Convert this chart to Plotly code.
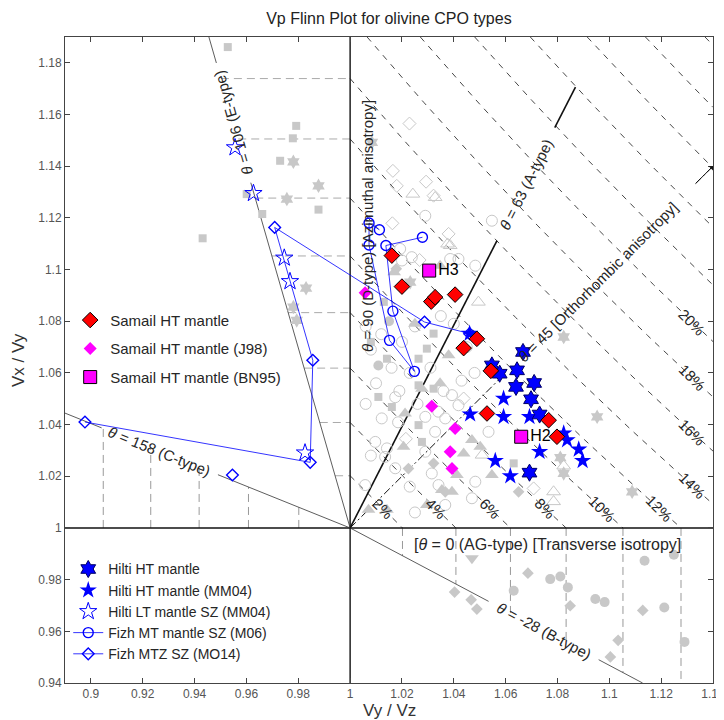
import numpy as np
import plotly.graph_objects as go

# ---------------- data ----------------
samail_x = [1.0161, 1.0200, 1.0313, 1.0328, 1.0405, 1.0489, 1.0438, 1.0543, 1.0528, 1.0766, 1.0798]
samail_y = [1.1054, 1.0934, 1.0876, 1.0893, 1.0903, 1.0732, 1.0696, 1.0608, 1.0443, 1.0417, 1.0353]
j98_x = [1.0058, 1.0315, 1.0405, 1.0386, 1.0393]
j98_y = [1.0910, 1.0471, 1.0385, 1.0295, 1.0230]
bn95_x = [1.0305, 1.0660]
bn95_y = [1.0996, 1.0353]
bn95_lab = ["H3", "H2"]
hiltiHT_x = [1.0667, 1.0644, 1.0547, 1.0577, 1.0640, 1.0710, 1.0698, 1.0731, 1.0692]
hiltiHT_y = [1.0681, 1.0610, 1.0629, 1.0597, 1.0546, 1.0561, 1.0498, 1.0439, 1.0214]
hiltiMM_x = [1.0461, 1.0592, 1.0463, 1.0592, 1.0692, 1.0824, 1.0837, 1.0731, 1.0882, 1.0897, 1.0560, 1.0618]
hiltiMM_y = [1.0752, 1.0501, 1.0440, 1.0430, 1.0430, 1.0366, 1.0340, 1.0295, 1.0304, 1.0260, 1.0260, 1.0201]
hiltiLT_x = [0.9556, 0.9627, 0.9746, 0.9768, 0.9826]
hiltiLT_y = [1.1472, 1.1295, 1.1045, 1.0954, 1.0291]
fizhMT_x = [1.0113, 1.0073, 1.0073, 1.0152, 1.0248, 1.0165, 1.0138, 1.0279]
fizhMT_y = [1.1154, 1.1180, 1.1095, 1.0726, 1.0606, 1.0839, 1.1093, 1.1125]
fizhMTZ_x = [1.0461, 1.0287, 0.9709, 0.9856, 0.9846, 0.8977, None, 0.9546]
fizhMTZ_y = [1.0752, 1.0797, 1.1163, 1.0649, 1.0254, 1.0410, None, 1.0205]

# literature database (grey symbols)
g_sq_x = [0.9528, 0.9792, 0.9779, 0.9730, 0.9601, 0.9661, 0.9878, 0.9431, 1.0322, 1.0296, 1.0264, 1.0142,
          1.0109, 1.0161, 1.0264, 1.0277, 1.0264, 1.0322, 1.0631, 1.0130, 1.0080]
g_sq_y = [1.1861, 1.1556, 1.1508, 1.1421, 1.1292, 1.1215, 1.1232, 1.1121, 1.0752, 1.0694, 1.0655, 1.0655,
          1.0507, 1.0468, 1.0398, 1.0333, 1.0552, 1.0539, 1.0250, 1.0875, 1.0720]
g_hex_x = [0.9781, 0.9878, 0.9756, 0.9830, 0.9781, 0.9794, 1.0084, 1.0232, 1.0953, 1.0811, 1.0824, 1.1088, 1.0824]
g_hex_y = [1.1417, 1.1324, 1.1273, 1.0928, 1.0855, 1.0803, 1.1492, 1.0951, 1.0430, 1.0272, 1.0211, 1.0140, 1.0739]
g_tri_x = [1.0347, 1.0380, 1.0212, 1.0206, 1.0470, 1.0502, 1.0438, 1.0547, 1.0412, 1.0354, 1.0393, 1.0296,
           1.0142, 1.0071, 1.0277, 1.0170, 1.0347, 1.0250]
g_tri_y = [1.1015, 1.0668, 1.0443, 1.0314, 1.0340, 1.0314, 1.0288, 1.0205, 1.0205, 1.0147, 1.0140, 1.0089,
           1.0070, 1.0070, 1.0539, 1.0990, 1.0560, 1.0790]
g_trio_x = [1.0242, 1.0328, 1.0376, 1.0386, 1.0495, 1.0509, 1.0824, 1.0785, 1.0785]
g_trio_y = [1.1292, 1.1279, 1.1099, 1.1093, 1.0874, 1.0282, 1.0240, 1.0140, 1.0102]
g_dia_x = [1.0178, 1.0322, 1.0225, 1.0650, 1.0367, 1.0686, 1.0403, 1.0467, 1.0489, 1.0849, 1.1129, 1.1034, 1.1004]
g_dia_y = [1.1003, 1.0250, 1.0230, 1.0140, 1.0140, 0.9825, 0.9752, 0.9722, 0.9686, 0.9699, 0.9681, 0.9565, 0.9501]
g_diao_x = [1.0229, 1.0165, 1.0180, 1.0293, 1.0322, 1.0163, 1.0380, 1.0268, 1.0438, 1.0708, 1.0215]
g_diao_y = [1.1565, 1.1382, 1.1324, 1.1340, 1.1286, 1.1179, 1.1138, 1.1037, 1.0501, 1.0153, 1.0345]
g_circ_x = [1.1136, 1.1249, 1.0772, 1.0811, 1.0840, 1.0631, 1.0946, 1.0982, 1.1212, 1.1290, 1.0150, 1.0109]
g_circ_y = [0.9873, 0.9896, 0.9802, 0.9812, 0.9770, 0.9757, 0.9725, 0.9713, 0.9692, 0.9559, 1.0800, 1.0629]
g_circo_x = [1.0290, 1.0418, 1.0483, 1.0200, 1.0547, 1.0193, 1.0238, 1.0386,
             1.0060, 1.0120, 1.0200, 1.0250, 1.0080, 1.0160, 1.0230, 1.0310, 1.0100, 1.0190, 1.0260, 1.0340,
             1.0060, 1.0430, 1.0360, 1.0480, 1.0400, 1.0350, 1.0450,
             1.0174, 1.0122, 1.0185, 1.0097, 1.0142, 1.0135, 1.0058, 1.0174, 1.0290, 1.0328, 1.0367, 1.0290,
             1.0315, 1.0341, 1.0483, 1.0470, 1.0367, 1.0534, 1.0393, 1.0418, 1.0230, 1.0250, 1.0080]
g_circo_y = [1.1208, 1.1041, 1.1015, 1.1035, 1.1189, 1.1080, 1.1048, 1.1041,
             1.0780, 1.0750, 1.0720, 1.0780, 1.0690, 1.0620, 1.0600, 1.0620, 1.0560, 1.0530, 1.0480, 1.0450,
             1.0480, 1.0570, 1.0530, 1.0600, 1.0790, 1.0820, 1.0700,
             1.0506, 1.0424, 1.0409, 1.0333, 1.0308, 1.0275, 1.0166, 1.0231, 1.0295, 1.0372, 1.0424, 1.0430,
             1.0211, 1.0166, 1.0179, 1.0115, 1.0089, 1.0372, 1.0514, 1.0475, 1.0160, 1.0060, 1.0280]
g_trid_x = [1.0470]
g_trid_y = [0.9883]

# reference-line parameters
pct_levels = list(range(2, 32, 2))
pct_labelled = [2, 4, 6, 8, 10, 12, 14, 16, 18, 20]
x_ticks = [0.9, 0.92, 0.94, 0.96, 0.98, 1, 1.02, 1.04, 1.06, 1.08, 1.1, 1.12, 1.14]
x_tick_text = ["0.9", "0.92", "0.94", "0.96", "0.98", "1", "1.02", "1.04", "1.06", "1.08", "1.1", "1.12", "1.14"]
y_ticks = [0.94, 0.96, 0.98, 1, 1.02, 1.04, 1.06, 1.08, 1.1, 1.12, 1.14, 1.16, 1.18]
y_tick_text = ["0.94", "0.96", "0.98", "1", "1.02", "1.04", "1.06", "1.08", "1.1", "1.12", "1.14", "1.16", "1.18"]

# theta lines: angle, label, label angle, gap start, gap end, end distance (None = box edge), style
theta_lines = [
    dict(th=63, lab="<i>θ</i> = 63 (A-type)", ang=-63, g0=0.1248, g1=0.1739, end=0.1915, color="#111", w=1.6, dash="solid"),
    dict(th=106, lab="<i>θ</i> = 106 (E-type)", ang=-106, g0=0.139, g1=0.1872, end=None, color="#333", w=0.8, dash="solid"),
    dict(th=158, lab="<i>θ</i> = 158 (C-type)", ang=22, g0=0.055, g1=0.1034, end=None, color="#333", w=0.8, dash="solid"),
    dict(th=-28, lab="<i>θ</i> = -28 (B-type)", ang=28, g0=0.0605, g1=0.1086, end=None, color="#333", w=0.8, dash="solid"),
    dict(th=45, lab="<i>θ</i> = 45 [Orthorhombic anisotropy]", ang=-45, g0=0.0819, g1=0.1884, end=None, color="#111", w=1.0, dash="8px,3px,2px,3px"),
]

X0, X1, Y0, Y1 = 0.89, 1.14, 0.94, 1.19
FONT = "Liberation Sans, Arial, sans-serif"
GREY = "#c8c8c8"

fig = go.Figure()


def ratio(a):
    return (200.0 + a) / (200.0 - a)


def box_dist(th):
    c, s = np.cos(np.radians(th)), np.sin(np.radians(th))
    ts = []
    if c > 1e-9: ts.append((X1 - 1) / c)
    if c < -1e-9: ts.append((X0 - 1) / c)
    if s > 1e-9: ts.append((Y1 - 1) / s)
    if s < -1e-9: ts.append((Y0 - 1) / s)
    return min(ts)


def add_lines(xs, ys, color, width, dash):
    fig.add_trace(go.Scatter(x=xs, y=ys, mode="lines", line=dict(color=color, width=width, dash=dash),
                             showlegend=False, hoverinfo="skip"))


# ---- anisotropy contour lines ----
tanE = np.tan(np.radians(106))
tanC = np.tan(np.radians(158))
tanB = np.tan(np.radians(-28))
ur_x, ur_y, ul_x, ul_y, lv_x, lv_y, rv_x, rv_y = [], [], [], [], [], [], [], []
for a in pct_levels:
    r = ratio(a)
    xs = np.linspace(max(1.0, r / Y1), min(r, X1), 80)
    ur_x += list(xs) + [None]
    ur_y += list(r / xs) + [None]
    if r <= Y1:
        ul_x += [1 + (r - 1) / tanE, 1.0, None]
        ul_y += [r, r, None]
    if 1 / r >= X0:
        xv = 1 / r
        lv_x += [xv, xv, None]
        lv_y += [1.0, 1 + (xv - 1) * tanC, None]
    if r <= X1:
        rv_x += [r, r, None]
        rv_y += [1.0, max(Y0, 1 + (r - 1) * tanB), None]
add_lines(ur_x, ur_y, "#333", 0.9, "6px,6px")
add_lines(ul_x, ul_y, "#aaa", 1.0, "8px,5px")
add_lines(lv_x, lv_y, "#999", 1.0, "8px,5px")
add_lines(rv_x, rv_y, "#999", 1.0, "8px,5px")

# ---- axes lines through (1,1) ----
add_lines([X0, X1], [1, 1], "#111", 1.4, "solid")
add_lines([1, 1], [Y0, Y1], "#111", 1.4, "solid")

annotations = []
for L in theta_lines:
    c, s = np.cos(np.radians(L["th"])), np.sin(np.radians(L["th"]))
    end = L["end"] if L["end"] is not None else box_dist(L["th"])
    d = [0, L["g0"], None, L["g1"], end]
    xs = [1 + t * c if t is not None else None for t in d]
    ys = [1 + t * s if t is not None else None for t in d]
    add_lines(xs, ys, L["color"], L["w"], L["dash"])
    dm = 0.5 * (L["g0"] + L["g1"])
    annotations.append(dict(x=1 + dm * c, y=1 + dm * s, xref="x", yref="y", text=L["lab"], showarrow=False,
                            textangle=L["ang"], font=dict(size=15, color="#262626", family=FONT)))
    if L["th"] == 45:
        annotations.append(dict(x=1 + end * c, y=1 + end * s, ax=1 + (end - 0.01) * c, ay=1 + (end - 0.01) * s,
                                xref="x", yref="y", axref="x", ayref="y", text="", showarrow=True,
                                arrowhead=1, arrowsize=1, arrowwidth=1, arrowcolor="#111"))

# D-type & AG-type labels
annotations.append(dict(x=1.0069, y=1.1169, xref="x", yref="y", text="<i>θ</i> = 90 (D-type) [Azimuthal anisotropy]",
                        showarrow=False, textangle=-90, font=dict(size=15, color="#262626", family=FONT)))
annotations.append(dict(x=1.0761, y=0.9935, xref="x", yref="y", text="[<i>θ</i> = 0 (AG-type) [Transverse isotropy]",
                        showarrow=False, font=dict(size=16, color="#262626", family=FONT)))

# percentage labels
for a in pct_labelled:
    r = ratio(a)
    if a <= 12:
        lx, ly = r / 1.0075, 1.0075
    else:
        lx, ly = 1.132, r / 1.132
    annotations.append(dict(x=lx, y=ly, xref="x", yref="y", text=f"{a}%", showarrow=False, textangle=45,
                            font=dict(size=15, color="#262626", family=FONT)))

# ---- grey literature symbols ----
def grey(xs, ys, symbol, size, open_=False):
    if open_:
        mk = dict(symbol=symbol, size=size, color=GREY, line=dict(color=GREY, width=1))
    else:
        mk = dict(symbol=symbol, size=size, color=GREY, line=dict(width=0))
    fig.add_trace(go.Scatter(x=xs, y=ys, mode="markers", marker=mk, showlegend=False, hoverinfo="skip"))


grey(g_circo_x, g_circo_y, "circle-open", 11, True)
grey(g_trio_x, g_trio_y, "triangle-up-open", 12, True)
grey(g_diao_x, g_diao_y, "diamond-open", 10, True)
grey(g_sq_x, g_sq_y, "square", 8)
grey(g_hex_x, g_hex_y, "hexagram", 11)
grey(g_tri_x, g_tri_y, "triangle-up", 12)
grey(g_dia_x, g_dia_y, "diamond", 9)
grey(g_circ_x, g_circ_y, "circle", 10)
grey(g_trid_x, g_trid_y, "triangle-down", 12)

# ---- coloured series ----
fig.add_trace(go.Scatter(x=fizhMT_x, y=fizhMT_y, mode="lines+markers", name="Fizh MT mantle SZ (M06)",
                         line=dict(color="#0000ff", width=0.8),
                         marker=dict(symbol="circle-open", size=10, color="#0000ff", line=dict(width=1.4)),
                         legend="legend2", legendrank=4, connectgaps=False))
fig.add_trace(go.Scatter(x=fizhMTZ_x, y=fizhMTZ_y, mode="lines+markers", name="Fizh MTZ SZ (MO14)",
                         line=dict(color="#0000ff", width=0.8),
                         marker=dict(symbol="diamond-open", size=9, color="#0000ff", line=dict(width=1.4)),
                         legend="legend2", legendrank=5, connectgaps=False))
fig.add_trace(go.Scatter(x=hiltiLT_x, y=hiltiLT_y, mode="markers", name="Hilti LT mantle SZ (MM04)",
                         marker=dict(symbol="star-open", size=13, color="#0000ff", line=dict(width=1)),
                         legend="legend2", legendrank=3))
fig.add_trace(go.Scatter(x=hiltiMM_x, y=hiltiMM_y, mode="markers", name="Hilti HT mantle (MM04)",
                         marker=dict(symbol="star", size=13, color="#0000ff", line=dict(width=0)),
                         legend="legend2", legendrank=2))
fig.add_trace(go.Scatter(x=hiltiHT_x, y=hiltiHT_y, mode="markers", name="Hilti HT mantle",
                         marker=dict(symbol="hexagram", size=13, color="#0000ff", line=dict(color="#000066", width=1)),
                         legend="legend2", legendrank=1))
fig.add_trace(go.Scatter(x=j98_x, y=j98_y, mode="markers", name="Samail HT mantle (J98)",
                         marker=dict(symbol="diamond", size=10, color="#ff00ff", line=dict(width=0)),
                         legend="legend", legendrank=2, legendgroup="b"))
fig.add_trace(go.Scatter(x=samail_x, y=samail_y, mode="markers", name="Samail HT mantle",
                         marker=dict(symbol="diamond", size=12, color="#ff0000", line=dict(color="#000", width=1)),
                         legend="legend", legendrank=1, legendgroup="a"))
fig.add_trace(go.Scatter(x=bn95_x, y=bn95_y, mode="markers+text", name="Samail HT mantle (BN95)",
                         text=bn95_lab, textposition="middle right", textfont=dict(size=16, color="#000", family=FONT),
                         marker=dict(symbol="square", size=13, color="#ff00ff", line=dict(color="#000", width=1)),
                         legend="legend", legendrank=3, legendgroup="c"))

# the page adds an 8 px body margin, so the figure is 8 px smaller and margins are shifted
fig.update_layout(
    width=716, height=712,
    margin=dict(l=57, r=11, t=29, b=37),
    paper_bgcolor="white", plot_bgcolor="white",
    font=dict(family=FONT, color="#262626"),
    title=dict(text="Vp Flinn Plot for olivine CPO types", x=0.532, xanchor="center", y=0.986, yanchor="middle",
               font=dict(size=16, color="#222", family=FONT)),
    xaxis=dict(range=[X0, X1], tickvals=x_ticks, ticktext=x_tick_text, ticks="inside", ticklen=5,
               showline=True, mirror="ticks", linecolor="#444", linewidth=1, tickcolor="#444",
               showgrid=False, zeroline=False, tickfont=dict(size=12, color="#555"), automargin=False,
               ticklabeloverflow="allow"),
    yaxis=dict(range=[Y0, Y1], tickvals=y_ticks, ticktext=y_tick_text, ticks="inside", ticklen=5,
               showline=True, mirror="ticks", linecolor="#444", linewidth=1, tickcolor="#444",
               showgrid=False, zeroline=False, tickfont=dict(size=12, color="#555"), automargin=False,
               ticklabeloverflow="allow"),
    legend=dict(x=0.008, y=0.587, xanchor="left", yanchor="top", bgcolor="rgba(255,255,255,0)",
                font=dict(size=15, color="#262626", family=FONT), tracegroupgap=6, itemclick=False),
    legend2=dict(x=0.005, y=0.2006, xanchor="left", yanchor="top", bgcolor="rgba(255,255,255,0)",
                 font=dict(size=14, color="#262626", family=FONT), tracegroupgap=0, itemclick=False),
    annotations=annotations + [
        dict(x=-0.0725, y=0.5, xref="paper", yref="paper", text="Vx / Vy", textangle=-90, showarrow=False,
             xanchor="center", yanchor="middle", font=dict(size=17, color="#333", family=FONT)),
        dict(x=0.5, y=-0.043, xref="paper", yref="paper", text="Vy / Vz", showarrow=False, xanchor="center",
             yanchor="middle", font=dict(size=17, color="#333", family=FONT)),
    ],
)

fig.write_html("out.html")
